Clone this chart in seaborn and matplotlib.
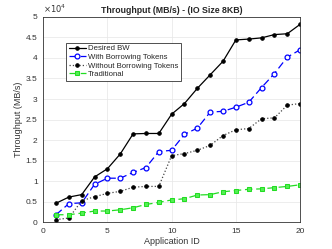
import numpy as np
import pandas as pd
import matplotlib
matplotlib.use("Agg")
import matplotlib.pyplot as plt
from matplotlib.ticker import FuncFormatter
import seaborn as sns

app_id = np.arange(1, 21)
desired_bw = [0.46, 0.61, 0.67, 1.10, 1.30, 1.66, 2.15, 2.16, 2.16, 2.63,
              2.89, 3.26, 3.59, 3.92, 4.44, 4.46, 4.49, 4.57, 4.59, 4.82]
with_borrow = [0.18, 0.45, 0.47, 0.92, 1.07, 1.07, 1.21, 1.33, 1.72, 1.75,
               2.14, 2.29, 2.68, 2.70, 2.80, 2.92, 3.28, 3.62, 4.02, 4.20]
without_borrow = [0.06, 0.10, 0.52, 0.62, 0.70, 0.75, 0.85, 0.87, 0.87, 1.62,
                  1.67, 1.75, 1.87, 2.11, 2.25, 2.28, 2.52, 2.54, 2.85, 2.89]
traditional = [0.18, 0.18, 0.22, 0.27, 0.27, 0.30, 0.35, 0.43, 0.48, 0.54,
               0.57, 0.66, 0.67, 0.74, 0.77, 0.80, 0.81, 0.84, 0.87, 0.91]

sns.set_theme(style="whitegrid")
plt.rcParams['font.family'] = ['Liberation Sans', 'DejaVu Sans']

fig = plt.figure(figsize=(3.32, 2.49), dpi=100)
ax = fig.add_axes([0.13, 0.108, 0.774, 0.824])

series = [
    ("Desired BW", desired_bw, dict(color='black', linestyle='-', marker='o', markersize=2.5,
                                    markerfacecolor='black', markeredgecolor='black')),
    ("With Borrowing Tokens", with_borrow, dict(color='blue', linestyle=(0, (6, 3)), marker='o', markersize=3.5,
                                                markerfacecolor='white', markeredgecolor='blue', markeredgewidth=0.9)),
    ("Without Borrowing Tokens", without_borrow, dict(color='#444444', linestyle=':', marker='o', markersize=2.5,
                                                      markerfacecolor='black', markeredgecolor='black')),
    ("Traditional", traditional, dict(color='#22dd22', linestyle=(0, (6, 3)), marker='s', markersize=2.5,
                                      markerfacecolor='#55ee55', markeredgecolor='#22dd22')),
]
for name, vals, style in series:
    sns.lineplot(x=app_id, y=np.array(vals) * 1e4, ax=ax, label=name, linewidth=0.9, **style)

ax.set_xlim(0, 20)
ax.set_ylim(0, 5e4)
ax.set_xticks([0, 5, 10, 15, 20])
ax.set_yticks(np.arange(0, 5.01e4, 0.5e4))
ax.yaxis.set_major_formatter(FuncFormatter(lambda v, p: '%g' % round(v / 1e4, 2)))
ax.text(0.0, 1.01, r'$\times10^4$', transform=ax.transAxes, fontsize=6, color='#333333',
        ha='left', va='bottom')
ax.tick_params(labelsize=6, colors='#333333', length=2, pad=2)
ax.grid(True, color='#e6e6e6', linewidth=0.5)
for sp in ax.spines.values():
    sp.set_color('#333333')
    sp.set_linewidth(0.6)
ax.set_facecolor('white')

ax.set_title('Throughput (MB/s) - (IO Size 8KB)', fontsize=6.3, fontweight='bold', pad=3)
ax.set_xlabel('Application ID', fontsize=6.5, color='#333333', labelpad=2)
ax.set_ylabel('Throughput (MB/s)', fontsize=6.5, color='#333333', labelpad=2)

leg = ax.legend(loc='upper left', bbox_to_anchor=(0.09, 0.875), fontsize=5.6, frameon=True,
                fancybox=False, framealpha=1, borderpad=0.3, labelspacing=0.15,
                handlelength=2.2, handletextpad=0.3, borderaxespad=0)
leg.get_frame().set_edgecolor('#333333')
leg.get_frame().set_linewidth(0.6)

fig.savefig('out.png', dpi=100)
